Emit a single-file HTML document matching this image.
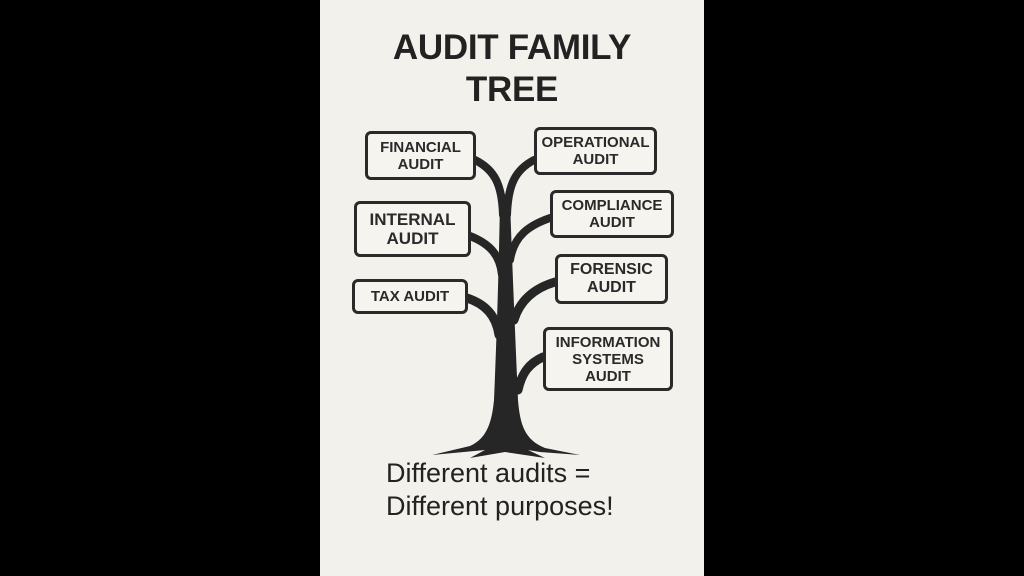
<!DOCTYPE html>
<html><head><style>
body{margin:0;width:1024px;height:576px;background:#000;position:relative;overflow:hidden;font-family:"Liberation Sans",sans-serif}
#p{position:absolute;left:320px;top:0;width:384px;height:576px;background:#f3f1ec}
.b{position:absolute;border:3px solid #2a2a2a;border-radius:6px;box-sizing:border-box;display:flex;align-items:center;justify-content:center;text-align:center;font-weight:bold;font-size:15px;line-height:17px;color:#2a2a2a;background:#f6f4ef}
.t{position:absolute;color:#222}
</style></head><body>
<div id="p"></div>
<div class="t" style="left:320px;width:384px;top:27px;text-align:center;font-weight:bold;font-size:35px;line-height:42px;letter-spacing:-0.3px">AUDIT FAMILY<br>TREE</div>
<svg style="position:absolute;left:0;top:0" width="1024" height="576">
<g fill="none" stroke="#262626" stroke-linecap="round">
<path d="M475 160 C495 170 502 185 503 215" stroke-width="8"/>
<path d="M534 160 C515 170 508 185 507 215" stroke-width="8"/>
<path d="M470 236 C490 244 500 255 502 275" stroke-width="8"/>
<path d="M550 218 C530 225 514 235 510 260" stroke-width="8"/>
<path d="M467 298 C485 304 496 315 499 335" stroke-width="9"/>
<path d="M555 282 C535 288 520 300 514 320" stroke-width="9"/>
<path d="M543 357 C530 363 522 372 518 390" stroke-width="9"/>
</g>
<path d="M500 200 L510 200 C512 260 515 330 518 400 C520 425 525 440 545 448 L580 455 L540 452 L528 450 L545 458 L505 452 L470 458 L485 450 L432 455 L470 446 C488 438 492 420 494 400 C497 330 499 260 500 200Z" fill="#262626"/>
</svg>
<div class="b" style="left:365px;top:131px;width:111px;height:49px">FINANCIAL<br>AUDIT</div>
<div class="b" style="left:534px;top:127px;width:123px;height:48px">OPERATIONAL<br>AUDIT</div>
<div class="b" style="left:354px;top:201px;width:117px;height:56px;font-size:17px;line-height:19px">INTERNAL<br>AUDIT</div>
<div class="b" style="left:550px;top:190px;width:124px;height:48px">COMPLIANCE<br>AUDIT</div>
<div class="b" style="left:352px;top:279px;width:116px;height:35px">TAX AUDIT</div>
<div class="b" style="left:555px;top:254px;width:113px;height:50px;font-size:16px;line-height:18px">FORENSIC<br>AUDIT</div>
<div class="b" style="left:543px;top:327px;width:130px;height:64px">INFORMATION<br>SYSTEMS<br>AUDIT</div>
<div class="t" style="left:386px;top:457px;font-size:27px;line-height:33px">Different audits =<br>Different purposes!</div>
</body></html>
